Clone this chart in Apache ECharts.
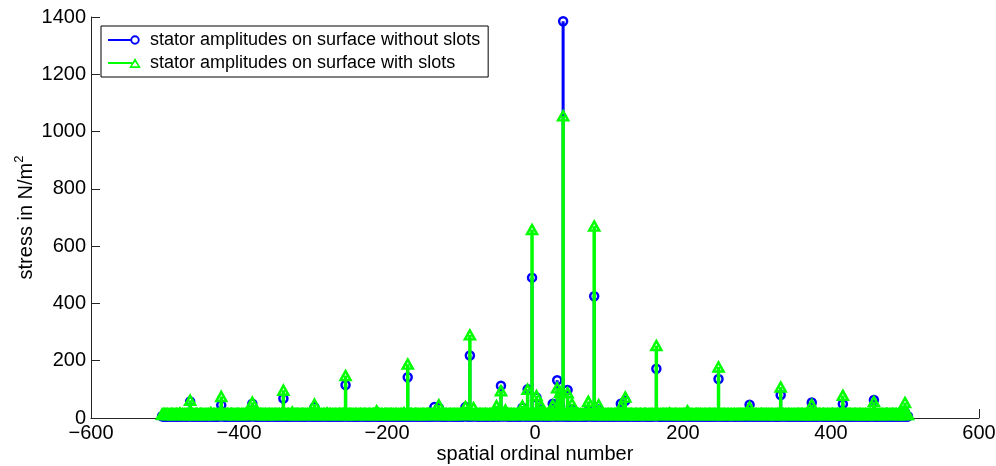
<!DOCTYPE html>
<html>
<head>
<meta charset="utf-8">
<script src="https://cdn.jsdelivr.net/npm/echarts@6/dist/echarts.min.js"></script>
<style>
  html, body { margin: 0; padding: 0; background: #ffffff; }
  #chart { width: 996px; height: 466px; }
</style>
</head>
<body>
<div id="chart"></div>
<script>
// Stator surface stress spectrum: amplitude per spatial ordinal number,
// without slots (blue circles) and with slots (green triangles), drawn as stems.

const seriesNames = [
  'stator amplitudes on surface without slots',
  'stator amplitudes on surface with slots'
];

const xTickValues = [-600, -400, -200, 0, 200, 400, 600];
const xTickLabels = ['\u2212600', '\u2212400', '\u2212200', '0', '200', '400', '600'];
const yTickValues = [0, 200, 400, 600, 800, 1000, 1200, 1400];
const yTickLabels = ['0', '200', '400', '600', '800', '1000', '1200', '1400'];

// Distinct spectral lines (ordinal number, amplitude in N/m^2)
const peakOrders = [-466, -424, -382, -340, -298, -256, -214, -172, -136, -130, -94, -88, -83, -52, -46, -40,
  -17, -10, -4, 2, 8, 24, 30, 34, 38, 44, 50, 72, 80, 86, 116, 122, 164, 206, 248, 290, 332, 374, 416, 458, 500];
const peakWithoutSlots = [58, 45, 50, 68, 38, 115, 15, 142, 38, 36, 38, 218, 15, 22, 113, 15,
  36, 100, 490, 72, 30, 50, 132, 40, 1385, 98, 30, 25, 425, 30, 50, 60, 172, 15, 136, 46, 80, 54, 49, 63, 20];
const peakWithSlots = [62, 75, 55, 97, 48, 148, 25, 188, 20, 46, 40, 290, 36, 43, 95, 28,
  42, 100, 658, 78, 44, 45, 105, 90, 1055, 88, 50, 58, 670, 46, 40, 73, 253, 25, 178, 38, 108, 47, 79, 57, 54];

// Low-level background amplitudes for every ordinal from firstOrder upward,
// one character per ordinal, read as a base-36 digit (N/m^2).
const firstOrder = -504;
const floorWithoutSlots = [
  '6756576567 7657667576 5676756767 6766576756 7567676576 6757667657 5676766756 7657567667 6767576576 7566767657',
  '6675765676 7576676567 6756767657 5767656776 6576757667 7657667567 6765767576 5676757667 7567676576 6756576767',
  '7657667576 5676756767 6766576756 7567676576 6757667657 5676766756 7657567667 6767576576 7566767657 6756576567',
  '7576676567 6756767657 5767656776 6576757667 7657667567 6765767576 5676757667 7567676576 6756576767 6675765676',
  '5676756767 6766576756 7567676576 6757667657 5676766756 7657567667 6767576576 7566767657 6756576567 7657667576',
  '6756767657 5767656776 6576757667 7657667567 6765767576 5676757667 7567676576 6756576767 6675765676 7576676567',
  '6766576756 7567676576 6757667657 5676766756 7657567667 6767576576 7566767657 6756576567 7657667576 5676756767',
  '5767656776 6576757667 7657667567 6765767576 5676757667 7567676576 6756576767 6675765676 7576676567 6756767657',
  '7567676576 6757667657 5676766756 7657567667 6767576576 7566767657 6756576567 7657667576 5676756767 6766576756',
  '6576757667 7657667567 6765767576 5676757667 7567676576 6756576767 6675765676 7576676567 6756767657 5767656776',
  '675657656'
];
const floorWithSlots = [
  'dcdedcddec cdddecdcdd edcdhdcdec ddcdedcddc decdcddedc cdedddcdcd dcdecdjdcd edcddcdedd cdedcdcdde dcddedcdcd',
  'cdedddcdec ddcdecdhdd edcddcdedc dcdedcddcd ecdcdedcdd dcddecdcde cdedcdddcd decdcdkdcd dcdedcdcdd edcddcdecd',
  'ddcdedcdcd cdedcddcde dcdhdcdedc ddcdecdcdd edcddedcdc dcdecddcdd cdedcdcded dcddedcdcd ecdcddedcd dcdedcdddc',
  'cdedcddcdd edcdcdedcd dcddecdidc decdcddedc cdedddcdcd dcdecdcdde edcddcdedd cdedcdcddc dcddedcdcd ecdcdedcdd',
  'dcdedcddcd cdedddcdec ddcdecdcdd edcddcdedc dcdedcddcd ecdhdedcdd dcddecdcde cdedcdddcd decdcddcdd dcdedcdcdd',
  'edcddcdecd ddcdedcdcd cdedcddcde dcddddcedc ddcdecdcdd edcddedcdc dcdecddcdd cdedcdcded dcddedcdcd ecdcddedcd',
  'dcdedcdddc cdedcddcdd edcdcdedcd dcddecdcdc decdcddedc cdedddcdcd dcdecdcdde edcddcdedd cdedcdhddc dcddedcdcd',
  'ecdcdedcdd dcdedcddcd cdedddcdec ddcdecdcdd edcddcdedc dcdedcddcd ecdcdedcdd dcddecdcde cdedcdddcd decdcddcdd',
  'dcdedcdcdd edcddcdecd ddcdedcdcd cdedcddcde dcdddcdedc ddcdecdcdd edcddedcdc dcdecddcdd cdedcdcded dcddedcdcd',
  'ecdcddedcd dcdedcdddc cdedcddcdd edcdcdedcd dcddecdcdc decdcddedc cdedddcdcd dcdecdcdde edcddcdedd cdedcdcddc',
  'dcddedcdc'
];

function buildSpectrum(floorRows, peakValues) {
  const floor = floorRows.join('').replace(/\s+/g, '');
  const peaks = new Map(peakOrders.map((o, i) => [o, peakValues[i]]));
  const out = [];
  for (let i = 0; i < floor.length; i++) {
    const order = firstOrder + i;
    const v = peaks.has(order) ? peaks.get(order) : parseInt(floor[i], 36);
    out.push([order, v]);
  }
  return out;
}

const dataWithout = buildSpectrum(floorWithoutSlots, peakWithoutSlots);
const dataWith = buildSpectrum(floorWithSlots, peakWithSlots);

const FONT = "'Liberation Sans', Arial, Helvetica, sans-serif";
const BLUE = '#0000ff';
const GREEN = '#00ff00';
const AXIS = '#262626';

function stemSeries(name, data, color, width, z) {
  return {
    name: name,
    type: 'custom',
    coordinateSystem: 'cartesian2d',
    data: data,
    z: z,
    silent: true,
    renderItem: function (params, api) {
      const base = api.coord([api.value(0), 0]);
      const top = api.coord([api.value(0), api.value(1)]);
      return {
        type: 'line',
        shape: { x1: base[0], y1: base[1], x2: top[0], y2: top[1] },
        style: { stroke: color, lineWidth: width, fill: null }
      };
    }
  };
}

function markerSeries(name, data, symbol, size, color, z) {
  return {
    name: name,
    type: 'scatter',
    data: data,
    z: z,
    silent: true,
    symbol: symbol,
    symbolSize: size,
    itemStyle: { color: 'rgba(0,0,0,0)', borderColor: color, borderWidth: 2.5, opacity: 1 }
  };
}

// Legend glyphs: short line ending in the series marker (37 x 12 box)
const circleIcon = 'path://M0 0M37 12M0 5L22.4 5L22.4 7L0 7Z' +
  'M31.7 6A4.7 4.7 0 1 0 22.3 6A4.7 4.7 0 1 0 31.7 6Z' +
  'M29.8 6A2.8 2.8 0 1 1 24.2 6A2.8 2.8 0 1 1 29.8 6Z';
const triangleIcon = 'path://M0 0M37 12M0 5L24 5L24 7L0 7Z' +
  'M27 1L32.8 11L21.2 11Z' +
  'M27 4.8L23.8 9.2L30.2 9.2Z';

const chart = echarts.init(document.getElementById('chart'), null, { renderer: 'canvas' });

chart.setOption({
  animation: false,
  backgroundColor: '#ffffff',
  textStyle: { fontFamily: FONT },
  grid: { left: 91, right: 17, top: 17, bottom: 48, containLabel: false, outerBoundsMode: 'none' },
  legend: {
    orient: 'vertical',
    left: 101,
    top: 26,
    padding: [4, 8, 4, 7],
    itemGap: 3,
    itemWidth: 37,
    itemHeight: 12,
    selectedMode: false,
    backgroundColor: '#ffffff',
    borderColor: '#000000',
    borderWidth: 1,
    borderRadius: 0,
    textStyle: { fontFamily: FONT, fontSize: 18, color: '#000000', lineHeight: 20 },
    data: [
      { name: seriesNames[0], icon: circleIcon, itemStyle: { color: BLUE, borderWidth: 0 } },
      { name: seriesNames[1], icon: triangleIcon, itemStyle: { color: GREEN, borderWidth: 0 } }
    ]
  },
  xAxis: {
    type: 'value',
    min: -600,
    max: 600,
    interval: 200,
    name: 'spatial ordinal number',
    nameLocation: 'middle',
    nameGap: 26,
    nameMoveOverlap: false,
    nameTextStyle: { fontFamily: FONT, fontSize: 20, color: '#000000' },
    axisLine: { show: true, onZero: false, lineStyle: { color: AXIS, width: 1 } },
    axisTick: { show: true, inside: true, length: 9, lineStyle: { color: AXIS, width: 1 } },
    axisLabel: {
      show: true, margin: 5, fontFamily: FONT, fontSize: 20, color: '#000000',
      showMinLabel: true, showMaxLabel: true,
      formatter: function (v) {
        const i = xTickValues.indexOf(v);
        return i >= 0 ? xTickLabels[i] : '';
      }
    },
    splitLine: { show: false }
  },
  yAxis: {
    type: 'value',
    min: 0,
    max: 1400,
    interval: 200,
    name: '{b|stress in N/m}{s|2}',
    nameLocation: 'middle',
    nameGap: 52,
    nameRotate: 90,
    nameMoveOverlap: false,
    nameTextStyle: {
      fontFamily: FONT, fontSize: 20, color: '#000000',
      rich: {
        b: { fontFamily: FONT, fontSize: 20, color: '#000000', lineHeight: 26 },
        s: { fontFamily: FONT, fontSize: 13, color: '#000000', lineHeight: 13, verticalAlign: 'top' }
      }
    },
    axisLine: { show: true, onZero: false, lineStyle: { color: AXIS, width: 1 } },
    axisTick: { show: true, inside: true, length: 9, lineStyle: { color: AXIS, width: 1 } },
    axisLabel: {
      show: true, margin: 5, fontFamily: FONT, fontSize: 20, color: '#000000',
      showMinLabel: true, showMaxLabel: true,
      formatter: function (v) {
        const i = yTickValues.indexOf(v);
        return i >= 0 ? yTickLabels[i] : '';
      }
    },
    splitLine: { show: false }
  },
  series: [
    stemSeries(seriesNames[0], dataWithout, BLUE, 3, 2),
    markerSeries(seriesNames[0], dataWithout, 'circle', 8, BLUE, 3),
    stemSeries(seriesNames[1], dataWith, GREEN, 3.5, 4),
    markerSeries(seriesNames[1], dataWith, 'triangle', [10, 9], GREEN, 5)
  ]
});
</script>
</body>
</html>
